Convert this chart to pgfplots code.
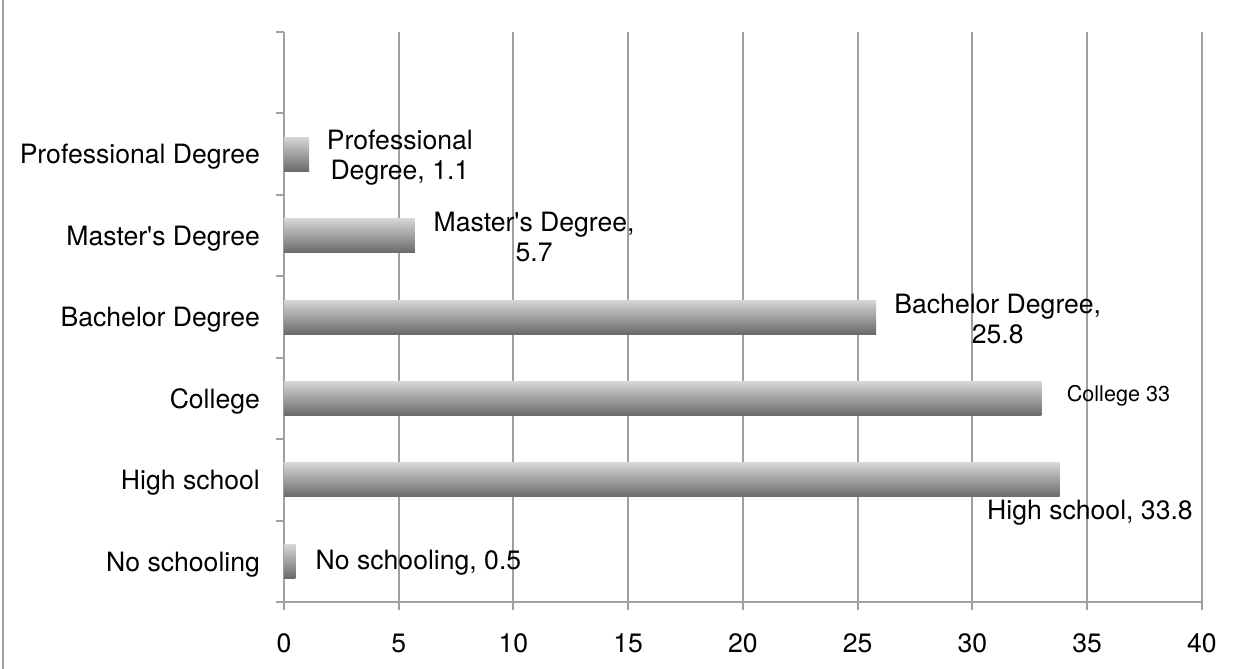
\documentclass[border=0pt]{standalone}
\usepackage{fontspec}
\setmainfont{TeX Gyre Heros}[Ligatures=TeXOff]
\usepackage{pgfplots}
\pgfplotsset{compat=1.18}
\definecolor{gridgray}{HTML}{A0A0A0}
\definecolor{bartop}{HTML}{D6D6D6}
\definecolor{barbot}{HTML}{6A6A6A}
\pgfplotsset{onebar/.style={xbar, bar width=17pt, bar shift=0pt, draw=none, top color=bartop, bottom color=barbot, forget plot}}
\begin{document}
\begin{tikzpicture}
\useasboundingbox (-142pt,-33.5pt) rectangle (482.5pt,301pt);
\draw[gridgray, line width=1pt] (-140.5pt,-33.5pt) -- (-140.5pt,301pt);
\begin{axis}[
  at={(0,0)}, anchor=south west,
  scale only axis, width=459pt, height=285pt,
  xmin=0, xmax=40, ymin=-0.5, ymax=6.5,
  xtick={0,5,...,40},
  ytick={0,1,2,3,4,5},
  yticklabels={No schooling, High school, College\hspace{6pt}, Bachelor Degree, Master's Degree, Professional Degree},
  minor ytick={-0.5,0.5,...,6.5},
  axis x line*=bottom, axis y line*=left,
  axis line style={gridgray, line width=1pt, -},
  tick align=outside,
  major tick length=4pt, minor tick length=4pt,
  major y tick style={draw=none},
  minor y tick style={gridgray, line width=1pt},
  major x tick style={gridgray, line width=1pt},
  xmajorgrids, major grid style={gridgray, line width=1pt},
  tick label style={font=\fontsize{13.3}{15.6}\selectfont, text=black},
  /pgf/number format/assume math mode=true,
  yticklabel style={xshift=-4.5pt, yshift=-1.5pt},
  xticklabel style={yshift=-8.5pt},
  clip=false,
]
\addplot[onebar] coordinates {(0.5,0)};
\addplot[onebar] coordinates {(33.8,1)};
\addplot[onebar] coordinates {(33,2)};
\addplot[onebar] coordinates {(25.8,3)};
\addplot[onebar] coordinates {(5.7,4)};
\addplot[onebar] coordinates {(1.1,5)};
\node[align=center, font=\fontsize{13.3}{15}\selectfont] at (axis cs:5.05,4.96) {Professional\\Degree, 1.1};
\node[align=center, font=\fontsize{13.3}{15}\selectfont] at (axis cs:10.9,3.98) {Master's Degree,\\5.7};
\node[align=center, font=\fontsize{13.3}{15}\selectfont] at (axis cs:31.1,2.98) {Bachelor Degree,\\25.8};
\node[font=\fontsize{10.8}{12}\selectfont] at (axis cs:36.36,2.03) {College 33};
\node[font=\fontsize{13.3}{15}\selectfont] at (axis cs:35.12,0.595) {High school, 33.8};
\node[font=\fontsize{13.3}{15}\selectfont] at (axis cs:5.86,-0.02) {No schooling, 0.5};
\end{axis}
\end{tikzpicture}
\end{document}
